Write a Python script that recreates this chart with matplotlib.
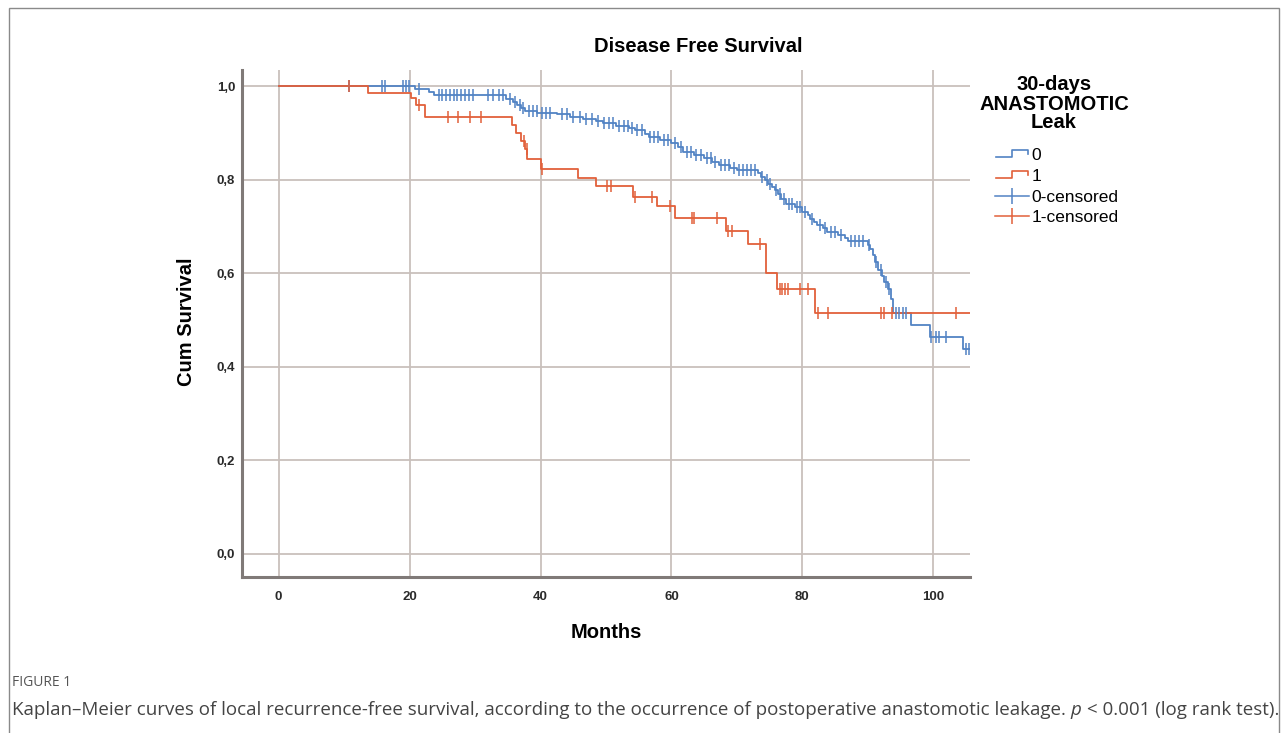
import matplotlib.pyplot as plt
import numpy as np
from matplotlib.lines import Line2D
from matplotlib.legend_handler import HandlerBase

# group 0 (no leak): step times (months) and survival after each step
t0 = [20.8, 23.0, 23.7, 34.8, 35.8, 36.4, 37.0, 37.6, 39.5, 42.5, 44.5, 46.5,
      48.5, 49.5, 51.5, 53.5, 54.5, 56.0, 56.5, 58.3, 60.0, 61.0, 61.8, 63.5,
      65.0, 66.2, 67.2, 69.0, 70.0, 73.2, 73.7, 74.3, 74.8, 75.3, 75.8, 76.3,
      76.8, 77.5, 78.8, 80.0, 80.8, 81.2, 81.8, 82.3, 83.2, 83.8, 85.5, 86.5,
      87.0, 90.0, 90.4, 90.8, 91.1, 91.5, 92.2, 92.5, 93.0, 93.5, 93.9, 96.6,
      99.5, 104.5]
s0 = [0.994, 0.988, 0.981, 0.974, 0.967, 0.960, 0.953, 0.948, 0.944, 0.940,
      0.935, 0.931, 0.926, 0.922, 0.915, 0.910, 0.906, 0.897, 0.892, 0.885,
      0.878, 0.870, 0.860, 0.853, 0.846, 0.839, 0.831, 0.826, 0.821, 0.814,
      0.807, 0.800, 0.792, 0.785, 0.778, 0.769, 0.760, 0.749, 0.742, 0.731,
      0.724, 0.717, 0.710, 0.703, 0.696, 0.689, 0.682, 0.675, 0.669, 0.661,
      0.653, 0.639, 0.625, 0.607, 0.594, 0.582, 0.567, 0.546, 0.516, 0.489,
      0.464, 0.437]
c0 = [10.8, 15.8, 16.3, 19.0, 19.5, 19.9, 21.5, 24.5, 25.0, 25.6, 26.2, 26.8,
      27.3, 27.9, 28.5, 29.1, 29.7, 32.0, 32.8, 33.6, 34.3, 35.3, 36.1, 36.8,
      37.3, 38.2, 38.8, 39.4, 40.2, 40.8, 41.4, 43.3, 44.0, 45.0, 46.0, 47.0,
      47.8, 48.8, 49.7, 50.4, 51.0, 52.0, 52.7, 53.3, 54.0, 54.8, 55.5, 56.7,
      57.3, 58.0, 58.8, 59.5, 60.5, 61.5, 62.3, 63.0, 63.8, 64.5, 65.5, 66.0,
      66.7, 67.6, 68.2, 68.8, 69.5, 70.3, 70.9, 71.5, 72.1, 72.7, 73.9, 74.6,
      75.1, 76.0, 76.6, 77.2, 77.9, 78.4, 79.2, 79.7, 80.4, 81.5, 82.7, 83.5,
      84.3, 85.0, 85.9, 87.4, 88.0, 88.6, 89.2, 90.2, 91.3, 92.0, 92.7, 93.3,
      94.3, 94.8, 95.3, 95.8, 99.6, 100.4, 100.9, 101.9, 105.0, 105.4]

# group 1 (leak)
t1 = [13.6, 20.2, 21.0, 22.3, 35.7, 36.2, 37.0, 37.6, 38.0, 40.0, 45.7, 48.4,
      54.2, 57.8, 60.6, 68.4, 71.7, 74.5, 76.1, 81.9]
s1 = [0.985, 0.975, 0.960, 0.935, 0.917, 0.900, 0.884, 0.866, 0.845, 0.824,
      0.803, 0.787, 0.763, 0.744, 0.719, 0.690, 0.662, 0.600, 0.567, 0.514]
c1 = [10.8, 21.5, 25.8, 27.4, 29.3, 30.9, 37.4, 37.9, 40.3, 50.2, 50.7, 54.5,
      57.0, 59.8, 63.1, 63.4, 66.9, 68.7, 69.2, 73.5, 76.6, 76.9, 77.3, 77.8,
      79.6, 80.9, 82.4, 83.9, 92.0, 92.4, 93.7, 103.5]

follow_end = 105.6

x_ticks = [0, 20, 40, 60, 80, 100]
y_ticks = [0.0, 0.2, 0.4, 0.6, 0.8, 1.0]
y_tick_labels = ['0,0', '0,2', '0,4', '0,6', '0,8', '1,0']
legend_labels = ['0', '1', '0-censored', '1-censored']

blue = '#5283c4'
red = '#e2603a'
grid_col = '#c9c0bc'
spine_col = '#807a78'

plt.rcParams['font.family'] = ['Liberation Sans', 'DejaVu Sans']


def km_xy(times, surv, end):
    x = np.r_[0.0, times, end]
    y = np.r_[1.0, surv, surv[-1]]
    return x, y


def censor_y(times, surv, cens):
    levels = np.r_[1.0, surv]
    return levels[np.searchsorted(times, cens, side='right')]


class StepHandler(HandlerBase):
    # little step glyph used by SPSS for the survival lines
    def create_artists(self, legend, orig_handle, xdescent, ydescent, width,
                       height, fontsize, trans):
        xs = np.array([0.05, 0.5, 0.5, 0.95, 0.95]) * width - xdescent
        ys = np.array([0.2, 0.2, 0.8, 0.8, 0.45]) * height - ydescent
        ln = Line2D(xs, ys, color=orig_handle.get_color(), lw=1.2)
        ln.set_transform(trans)
        return [ln]


W, H = 1287, 733
fig = plt.figure(figsize=(W / 100, H / 100), dpi=100)

# page frame
fig.add_artist(plt.Rectangle((9 / W, -0.05), (1279 - 9) / W, 1.05 - 8 / H,
                             transform=fig.transFigure, fill=False,
                             edgecolor='#8a8a8a', lw=1.0))

ax = fig.add_axes([242 / W, 1 - 577 / H, (970 - 242) / W, (577 - 70) / H])

x0, y0 = km_xy(t0, s0, follow_end)
x1, y1 = km_xy(t1, s1, follow_end)
ax.step(x0, y0, where='post', color=blue, lw=1.3, zorder=3)
ax.step(x1, y1, where='post', color=red, lw=1.3, zorder=3)
ax.plot(c0, censor_y(t0, s0, c0), ls='none', marker='|', ms=8, mew=1.1,
        color=blue, zorder=4)
ax.plot(c1, censor_y(t1, s1, c1), ls='none', marker='|', ms=8, mew=1.1,
        color=red, zorder=4)

ax.set_xlim(-5.6, 105.6)
ax.set_ylim(-0.05, 1.035)
ax.set_xticks(x_ticks)
ax.set_yticks(y_ticks)
ax.set_yticklabels(y_tick_labels)
ax.grid(True, color=grid_col, lw=1.3)
ax.set_axisbelow(True)
ax.tick_params(length=0, labelsize=9.5, colors='#2a2a2a')
for lbl in ax.get_xticklabels() + ax.get_yticklabels():
    lbl.set_fontweight('bold')
ax.tick_params(axis='x', pad=10)
ax.tick_params(axis='y', pad=5)
for side in ['top', 'right']:
    ax.spines[side].set_visible(False)
for side in ['left', 'bottom']:
    ax.spines[side].set_color(spine_col)
    ax.spines[side].set_linewidth(2.2)

fig.text(698 / W, 1 - 47 / H, 'Disease Free Survival', ha='center',
         va='center', fontsize=14.5, fontweight='bold')
fig.text(606 / W, 1 - 633 / H, 'Months', ha='center', va='center',
         fontsize=14.5, fontweight='bold')
fig.text(186 / W, 1 - 322 / H, 'Cum Survival', ha='center', va='center',
         rotation=90, fontsize=14.5, fontweight='bold')

# legend title drawn on its own so it can sit centred above the entries
fig.text(1054 / W, 1 - 104 / H, '30-days\nANASTOMOTIC\nLeak', ha='center',
         va='center', ma='center', fontsize=14.5, fontweight='bold',
         linespacing=1.0)

h0 = Line2D([], [], color=blue)
h1 = Line2D([], [], color=red)
hc0 = Line2D([], [], color=blue, marker='|', ms=11, mew=1.1, lw=1.1)
hc1 = Line2D([], [], color=red, marker='|', ms=11, mew=1.1, lw=1.1)
leg = fig.legend([h0, h1, hc0, hc1], legend_labels,
                 loc='upper left', bbox_to_anchor=(986 / W, 1 - 139 / H),
                 bbox_transform=fig.transFigure, frameon=False,
                 handler_map={h0: StepHandler(), h1: StepHandler()},
                 numpoints=1, handlelength=2.0, handletextpad=0.1,
                 labelspacing=0.33, borderpad=0, fontsize=12.5)

cap_font = ['Open Sans', 'DejaVu Sans']
fig.text(12 / W, 1 - 683 / H, 'FIGURE 1', ha='left', va='center',
         fontsize=10, color='#555555', family=cap_font)
renderer = fig.canvas.get_renderer()
cap = ('Kaplan\u2013Meier curves of local recurrence-free survival, according '
       'to the occurrence of postoperative anastomotic leakage. ')
t_a = fig.text(12 / W, 1 - 710 / H, cap, ha='left', va='center',
               fontsize=13.5, color='#444444', family=cap_font)
bb = t_a.get_window_extent(renderer)
t_b = fig.text(bb.x1 / W, 1 - 710 / H, 'p', ha='left', va='center',
               fontsize=13.5, color='#444444', style='italic', family=cap_font)
bb = t_b.get_window_extent(renderer)
fig.text(bb.x1 / W, 1 - 710 / H, ' < 0.001 (log rank test).', ha='left',
         va='center', fontsize=13.5, color='#444444', family=cap_font)

fig.savefig('out.png', dpi=100)
